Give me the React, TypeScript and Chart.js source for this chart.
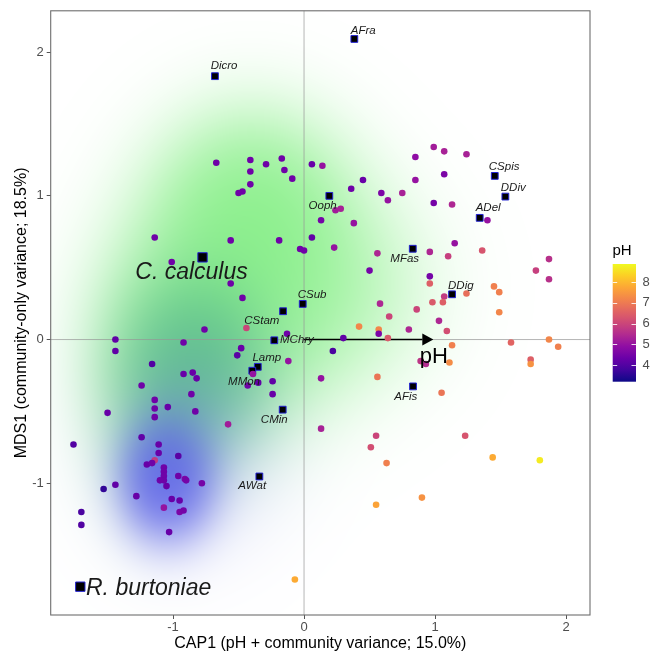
import React, { useEffect, useRef } from 'react';
import { Chart, registerables } from 'chart.js';

Chart.register(...registerables);

// ---------------- data ----------------
const siteX = [
  -0.67, -0.41, -0.29, -0.17, -0.41, -0.15, -0.09, -0.41, -0.47, -0.50,
  0.06, 0.14, 0.45, 0.36, 0.59, 0.64, 0.75, 0.99, 1.13, 0.99,
  1.07, 1.24, 0.85, 1.07, 0.85, 1.40, 0.24, 0.28, 0.13, 0.38,
  0.06, 0.23, -0.03, 0.00, 0.56, 0.50, 0.96, 1.15, 1.10, 1.36,
  1.87, 1.77, 1.87, 0.96, 0.96, 1.07, 1.24, 1.45, 1.49, 0.98,
  1.06, 0.58, 0.86, 0.65, 1.49, 1.03, 0.42, 0.57, 0.80, 1.09,
  0.57, 0.64, 0.30, 0.22, 1.13, 1.58, 1.87, 1.94, 0.89, 0.93,
  1.11, 1.73, 1.73, 0.13, 0.56, 1.05, 0.13, 0.55, 0.51, 1.23,
  0.63, 1.44, 1.80, 0.90, 0.55, -0.07,
  -1.14, -1.01, -0.56, -0.19, -0.56, -0.47, -0.44, -0.76, -0.13, -0.92,
  -0.48, -0.51, -0.12, -1.44, -1.44, -1.16, -0.92, -0.85, -0.82, -1.24,
  -0.39, -0.43, -0.35, -0.24, -0.24, -0.86, -1.14, -1.14, -1.04, -1.14,
  -0.83, -1.50, -0.58, -1.24, -1.76, -1.11, -1.11, -0.96, -1.14, -1.20,
  -1.16, -1.07, -1.07, -1.07, -1.07, -1.10, -1.05, -0.96, -0.91, -0.90,
  -0.78, -1.44, -1.53, -1.28, -1.01, -0.95, -1.07, -0.95, -0.92, -1.70,
  -1.70, -1.03,
];
const siteY = [
  1.23, 1.25, 1.22, 1.26, 1.17, 1.18, 1.12, 1.08, 1.03, 1.02,
  1.22, 1.21, 1.11, 1.05, 1.02, 0.97, 1.02, 0.95, 0.94, 1.34,
  1.31, 1.29, 1.27, 1.15, 1.11, 0.83, 0.90, 0.91, 0.83, 0.81,
  0.71, 0.64, 0.63, 0.62, 0.60, 0.48, 0.61, 0.67, 0.58, 0.62,
  0.56, 0.48, 0.42, 0.44, 0.39, 0.30, 0.32, 0.37, 0.33, 0.26,
  0.26, 0.25, 0.21, 0.16, 0.19, 0.13, 0.09, 0.07, 0.07, 0.06,
  0.04, 0.01, 0.01, -0.08, -0.04, -0.02, 0.00, -0.05, -0.15, -0.17,
  -0.16, -0.14, -0.17, -0.27, -0.26, -0.37, -0.62, -0.67, -0.75, -0.67,
  -0.86, -0.82, -0.84, -1.10, -1.15, -1.67,
  0.71, 0.54, 0.69, 0.69, 0.39, 0.29, 0.08, 0.07, 0.04, -0.02,
  -0.06, -0.11, -0.15, 0.00, -0.08, -0.17, -0.24, -0.23, -0.27, -0.32,
  -0.24, -0.32, -0.30, -0.29, -0.38, -0.38, -0.42, -0.48, -0.47, -0.54,
  -0.50, -0.51, -0.59, -0.68, -0.73, -0.73, -0.79, -0.81, -0.84, -0.87,
  -0.86, -0.89, -0.92, -0.95, -0.98, -0.98, -1.02, -0.95, -0.97, -0.98,
  -1.00, -1.01, -1.04, -1.09, -1.11, -1.12, -1.17, -1.20, -1.19, -1.20,
  -1.29, -1.34,
];
const sitePH = [
  4.4, 4.4, 4.4, 4.4, 4.4, 4.4, 4.4, 4.4, 4.4, 4.4,
  4.3, 5.0, 4.3, 4.4, 4.6, 5.0, 5.3, 4.5, 5.4, 5.2,
  5.3, 5.3, 4.9, 4.6, 5.0, 5.0, 5.2, 5.3, 4.5, 5.0,
  4.2, 5.0, 4.4, 4.4, 5.4, 4.5, 5.4, 5.0, 5.9, 6.3,
  5.6, 5.9, 5.6, 4.5, 6.5, 5.8, 6.8, 7.1, 7.1, 6.4,
  6.5, 5.4, 6.0, 6.0, 7.2, 5.4, 7.2, 7.2, 5.4, 6.2,
  4.6, 6.4, 4.2, 3.9, 7.1, 6.6, 7.2, 7.1, 5.7, 5.5,
  7.3, 6.5, 7.4, 5.0, 6.9, 6.9, 5.3, 6.0, 6.2, 6.3,
  7.1, 7.8, 8.7, 7.4, 7.7, 7.8,
  4.4, 4.4, 4.4, 4.4, 4.4, 4.4, 6.0, 4.4, 4.4, 4.4,
  4.3, 4.1, 5.0, 4.2, 4.2, 4.0, 4.3, 4.3, 4.3, 4.4,
  5.0, 4.4, 4.2, 4.2, 4.3, 4.4, 4.4, 4.4, 4.3, 4.4,
  4.4, 4.3, 5.2, 4.2, 4.0, 4.3, 4.3, 4.1, 5.8, 4.3,
  4.4, 4.4, 4.4, 4.4, 4.4, 4.4, 4.3, 4.4, 4.6, 4.5,
  4.5, 4.2, 3.6, 4.3, 4.3, 4.3, 5.0, 4.6, 4.5, 3.9,
  4.0, 4.3,
];

const speciesNames = ['Dicro', 'AFra', 'CSpis', 'DDiv', 'ADel', 'Ooph', 'MFas', 'DDig', 'CSub', 'CStam', 'MChry', 'Lamp', 'MMon', 'CMin', 'AWat', 'AFis'];
const speciesX = [-0.68, 0.384, 1.456, 1.537, 1.341, 0.193, 0.83, 1.13, -0.01, -0.16, -0.227, -0.353, -0.395, -0.163, -0.341, 0.832];
const speciesY = [1.833, 2.092, 1.139, 0.995, 0.847, 1.0, 0.632, 0.315, 0.248, 0.197, -0.005, -0.19, -0.217, -0.488, -0.953, -0.326];

const focalNames = ['C. calculus', 'R. burtoniae'];
const focalX = [-0.775, -1.708];
const focalY = [0.572, -1.72];

const arrowName = 'pH';
const arrowX = [0, 0.987];
const arrowY = [0, 0];

const xTicks = [-1, 0, 1, 2];
const yTicks = [-1, 0, 1, 2];
const phTicks = [4, 5, 6, 7, 8];

const xTitle = 'CAP1 (pH + community variance; 15.0%)';
const yTitle = 'MDS1 (community-only variance; 18.5%)';
const legendTitle = 'pH';

// ---------------- styling ----------------
const FONT = "'Liberation Sans', Arial, sans-serif";
const X_RANGE = [-1.934, 2.183];
const Y_RANGE = [-1.917, 2.288];
const PH_RANGE = [3.19, 8.88];

// label placement: [align, dx, dy]
const speciesLabelPos: [CanvasTextAlign, number, number][] = [
  ['left', -4.3, -10], ['left', -3.6, -8.4], ['left', -6, -9.3], ['left', -4.6, -8.4],
  ['left', -4, -9.7], ['right', 7.4, 10], ['right', 6.3, 9.7], ['left', -4, -8.7],
  ['left', -5, -9.3], ['right', -3.7, 9.6], ['left', 5.7, -0.7], ['left', -5.4, -9],
  ['right', 7.7, 10.7], ['right', 5, 9.7], ['right', 6.7, 9.7], ['right', 4.3, 10],
];
const focalLabelPos: [CanvasTextAlign, number, number][] = [
  ['center', -11, 15], ['left', 5.7, 1.6],
];

// density layers: colour, peak alpha, gain, blobs [cx, cy, sx, sy, w] in data units
const DENSITY_LAYERS = [
  {
    color: [110, 236, 110], peak: 0.85, k: 1.6,
    blobs: [[-0.4, 0.9, 0.45, 0.42, 1], [-0.65, 0.15, 0.5, 0.5, 0.9], [0.15, 0.35, 0.5, 0.45, 0.45], [-1.2, -0.3, 0.3, 0.5, 0.4]],
  },
  {
    color: [40, 165, 110], peak: 0.55, k: 1.5,
    blobs: [[-0.85, -0.2, 0.33, 0.38, 1]],
  },
  {
    color: [75, 75, 235], peak: 0.88, k: 1.8,
    blobs: [[-1.05, -0.97, 0.22, 0.26, 1], [-0.85, -0.6, 0.45, 0.5, 0.15]],
  },
];

const PLASMA = [
  [13, 8, 135], [65, 4, 157], [106, 0, 168], [143, 13, 164], [177, 42, 144],
  [204, 71, 120], [225, 100, 98], [242, 132, 75], [252, 166, 54], [252, 206, 37], [240, 249, 33],
];
function plasma(t: number): string {
  const tt = Math.max(0, Math.min(1, t)) * 10;
  const i = Math.min(9, Math.floor(tt));
  const f = tt - i;
  const a = PLASMA[i], b = PLASMA[i + 1];
  const c = a.map((v, k) => Math.round(v + (b[k] - v) * f));
  return `rgb(${c[0]},${c[1]},${c[2]})`;
}
const phColor = (v: number) => plasma((v - PH_RANGE[0]) / (PH_RANGE[1] - PH_RANGE[0]));

const densityPlugin = {
  id: 'density',
  beforeDraw(chart: any) {
    const { ctx, chartArea: a, scales } = chart;
    const xs = scales.x, ys = scales.y;
    const w = Math.ceil(a.right - a.left), h = Math.ceil(a.bottom - a.top);
    const off = document.createElement('canvas');
    off.width = w; off.height = h;
    const octx = off.getContext('2d')!;
    const img = octx.createImageData(w, h);
    const d = img.data;
    for (let j = 0; j < h; j++) {
      const vy = ys.getValueForPixel(a.top + j + 0.5);
      for (let i = 0; i < w; i++) {
        const vx = xs.getValueForPixel(a.left + i + 0.5);
        let r = 255, g = 255, b = 255;
        for (const L of DENSITY_LAYERS) {
          let D = 0;
          for (const bl of L.blobs) {
            const dx = (vx - bl[0]) / bl[2], dy = (vy - bl[1]) / bl[3];
            D += bl[4] * Math.exp(-0.5 * (dx * dx + dy * dy));
          }
          const al = L.peak * (1 - Math.exp(-L.k * D));
          r = r * (1 - al) + L.color[0] * al;
          g = g * (1 - al) + L.color[1] * al;
          b = b * (1 - al) + L.color[2] * al;
        }
        const p = (j * w + i) * 4;
        d[p] = r; d[p + 1] = g; d[p + 2] = b; d[p + 3] = 255;
      }
    }
    octx.putImageData(img, 0, 0);
    ctx.save();
    ctx.fillStyle = '#ffffff';
    ctx.fillRect(0, 0, chart.width, chart.height);
    ctx.drawImage(off, a.left, a.top);
    ctx.restore();
  },
  beforeDatasetsDraw(chart: any) {
    const { ctx, chartArea: a, scales } = chart;
    const xs = scales.x, ys = scales.y;
    ctx.save();
    ctx.strokeStyle = 'rgba(150,150,150,0.7)';
    ctx.lineWidth = 1;
    const x0 = xs.getPixelForValue(0), y0 = ys.getPixelForValue(0);
    ctx.beginPath();
    ctx.moveTo(x0, a.top); ctx.lineTo(x0, a.bottom);
    ctx.moveTo(a.left, y0); ctx.lineTo(a.right, y0);
    ctx.stroke();
    // arrow
    const ax0 = xs.getPixelForValue(arrowX[0]), ay0 = ys.getPixelForValue(arrowY[0]);
    const ax1 = xs.getPixelForValue(arrowX[1]), ay1 = ys.getPixelForValue(arrowY[1]);
    const ang = Math.atan2(ay1 - ay0, ax1 - ax0);
    const hl = 11, hw = 6;
    ctx.strokeStyle = '#000';
    ctx.lineWidth = 1.4;
    ctx.beginPath();
    ctx.moveTo(ax0, ay0);
    ctx.lineTo(ax1 - hl * Math.cos(ang), ay1 - hl * Math.sin(ang));
    ctx.stroke();
    ctx.fillStyle = '#000';
    ctx.beginPath();
    ctx.moveTo(ax1, ay1);
    ctx.lineTo(ax1 - hl * Math.cos(ang) + hw * Math.sin(ang), ay1 - hl * Math.sin(ang) - hw * Math.cos(ang));
    ctx.lineTo(ax1 - hl * Math.cos(ang) - hw * Math.sin(ang), ay1 - hl * Math.sin(ang) + hw * Math.cos(ang));
    ctx.closePath();
    ctx.fill();
    ctx.restore();
  },
  afterDraw(chart: any) {
    const { ctx, chartArea: a, scales } = chart;
    const xs = scales.x, ys = scales.y;
    ctx.save();
    // panel border
    ctx.strokeStyle = '#6e6e6e';
    ctx.lineWidth = 1.1;
    ctx.strokeRect(a.left, a.top, a.right - a.left, a.bottom - a.top);

    // species labels
    ctx.fillStyle = '#1a1a1a';
    ctx.textBaseline = 'middle';
    ctx.font = `italic 11.5px ${FONT}`;
    speciesNames.forEach((n, i) => {
      const [al, dx, dy] = speciesLabelPos[i];
      ctx.textAlign = al;
      ctx.fillText(n, xs.getPixelForValue(speciesX[i]) + dx, ys.getPixelForValue(speciesY[i]) + dy);
    });
    ctx.font = `italic 23px ${FONT}`;
    focalNames.forEach((n, i) => {
      const [al, dx, dy] = focalLabelPos[i];
      ctx.textAlign = al;
      ctx.fillText(n, xs.getPixelForValue(focalX[i]) + dx, ys.getPixelForValue(focalY[i]) + dy);
    });
    // arrow label
    ctx.fillStyle = '#000';
    ctx.font = `22px ${FONT}`;
    ctx.textAlign = 'center';
    ctx.textBaseline = 'alphabetic';
    ctx.fillText(arrowName, xs.getPixelForValue(arrowX[1]) + 0.5, ys.getPixelForValue(arrowY[1]) + 23.5);

    // axis titles
    ctx.font = `16px ${FONT}`;
    ctx.textBaseline = 'middle';
    ctx.fillText(xTitle, (a.left + a.right) / 2, 644);
    ctx.save();
    ctx.translate(21.5, (a.top + a.bottom) / 2);
    ctx.rotate(-Math.PI / 2);
    ctx.fillText(yTitle, 0, 0);
    ctx.restore();

    // colour bar legend
    const bx = 612.7, bw = 23.3, bTop = 264, bBot = 381.7;
    const yOf = (v: number) => bBot - (v - PH_RANGE[0]) / (PH_RANGE[1] - PH_RANGE[0]) * (bBot - bTop);
    const grad = ctx.createLinearGradient(0, bBot, 0, bTop);
    for (let s = 0; s <= 20; s++) grad.addColorStop(s / 20, plasma(s / 20));
    ctx.fillStyle = grad;
    ctx.fillRect(bx, bTop, bw, bBot - bTop);
    ctx.strokeStyle = 'rgba(255,255,255,0.85)';
    ctx.lineWidth = 1;
    ctx.beginPath();
    phTicks.forEach((v) => {
      const yy = Math.round(yOf(v)) + 0.5;
      ctx.moveTo(bx, yy); ctx.lineTo(bx + 4.5, yy);
      ctx.moveTo(bx + bw - 4.5, yy); ctx.lineTo(bx + bw, yy);
    });
    ctx.stroke();
    ctx.fillStyle = '#4d4d4d';
    ctx.font = `13px ${FONT}`;
    ctx.textAlign = 'left';
    ctx.textBaseline = 'middle';
    phTicks.forEach((v) => ctx.fillText(String(v), 642.5, yOf(v)));
    ctx.fillStyle = '#000';
    ctx.font = `15px ${FONT}`;
    ctx.fillText(legendTitle, 612.5, 251);
    ctx.restore();
  },
};

export default function App() {
  const ref = useRef<HTMLCanvasElement | null>(null);
  useEffect(() => {
    if (!ref.current) return;
    const siteData = siteX.map((x, i) => ({ x, y: siteY[i] }));
    const spData = speciesX.map((x, i) => ({ x, y: speciesY[i] }));
    const focalData = focalX.map((x, i) => ({ x, y: focalY[i] }));
    const chart = new Chart(ref.current, {
      type: 'scatter',
      data: {
        datasets: [
          {
            data: siteData,
            pointRadius: 3.3,
            pointBorderWidth: 0,
            pointBackgroundColor: sitePH.map(phColor),
            pointBorderColor: 'rgba(0,0,0,0)',
          },
          {
            data: spData,
            pointStyle: 'rect',
            pointRadius: 4.8,
            pointBackgroundColor: '#000',
            pointBorderColor: 'rgb(35,35,210)',
            pointBorderWidth: 1,
          },
          {
            data: focalData,
            pointStyle: 'rect',
            pointRadius: 6.6,
            pointBackgroundColor: '#000',
            pointBorderColor: 'rgb(35,35,210)',
            pointBorderWidth: 1,
          },
        ],
      },
      options: {
        responsive: false,
        animation: false,
        devicePixelRatio: 1,
        layout: { padding: { left: 0, top: 9.5, right: 61, bottom: 0 } },
        plugins: { legend: { display: false }, tooltip: { enabled: false } },
        events: [],
        scales: {
          x: {
            type: 'linear',
            min: X_RANGE[0],
            max: X_RANGE[1],
            afterBuildTicks: (s: any) => { s.ticks = xTicks.map((v) => ({ value: v })); },
            afterFit: (s: any) => { s.height = 40; },
            ticks: { color: '#4d4d4d', font: { family: FONT, size: 13 }, padding: 1, maxRotation: 0, autoSkip: false },
            grid: { display: true, drawOnChartArea: false, drawTicks: true, tickLength: 4, color: '#555' },
            border: { display: false },
          },
          y: {
            type: 'linear',
            min: Y_RANGE[0],
            max: Y_RANGE[1],
            afterBuildTicks: (s: any) => { s.ticks = yTicks.map((v) => ({ value: v })); },
            afterFit: (s: any) => { s.width = 50.7; },
            ticks: { color: '#4d4d4d', font: { family: FONT, size: 13 }, padding: 3, autoSkip: false },
            grid: { display: true, drawOnChartArea: false, drawTicks: true, tickLength: 4, color: '#555' },
            border: { display: false },
          },
        },
      },
      plugins: [densityPlugin],
    });
    return () => chart.destroy();
  }, []);
  return (
    <div style={{ position: 'absolute', left: 0, top: 0, width: 651, height: 655, background: '#fff' }}>
      <canvas ref={ref} width={651} height={655} style={{ display: 'block', width: 651, height: 655 }} />
    </div>
  );
}
